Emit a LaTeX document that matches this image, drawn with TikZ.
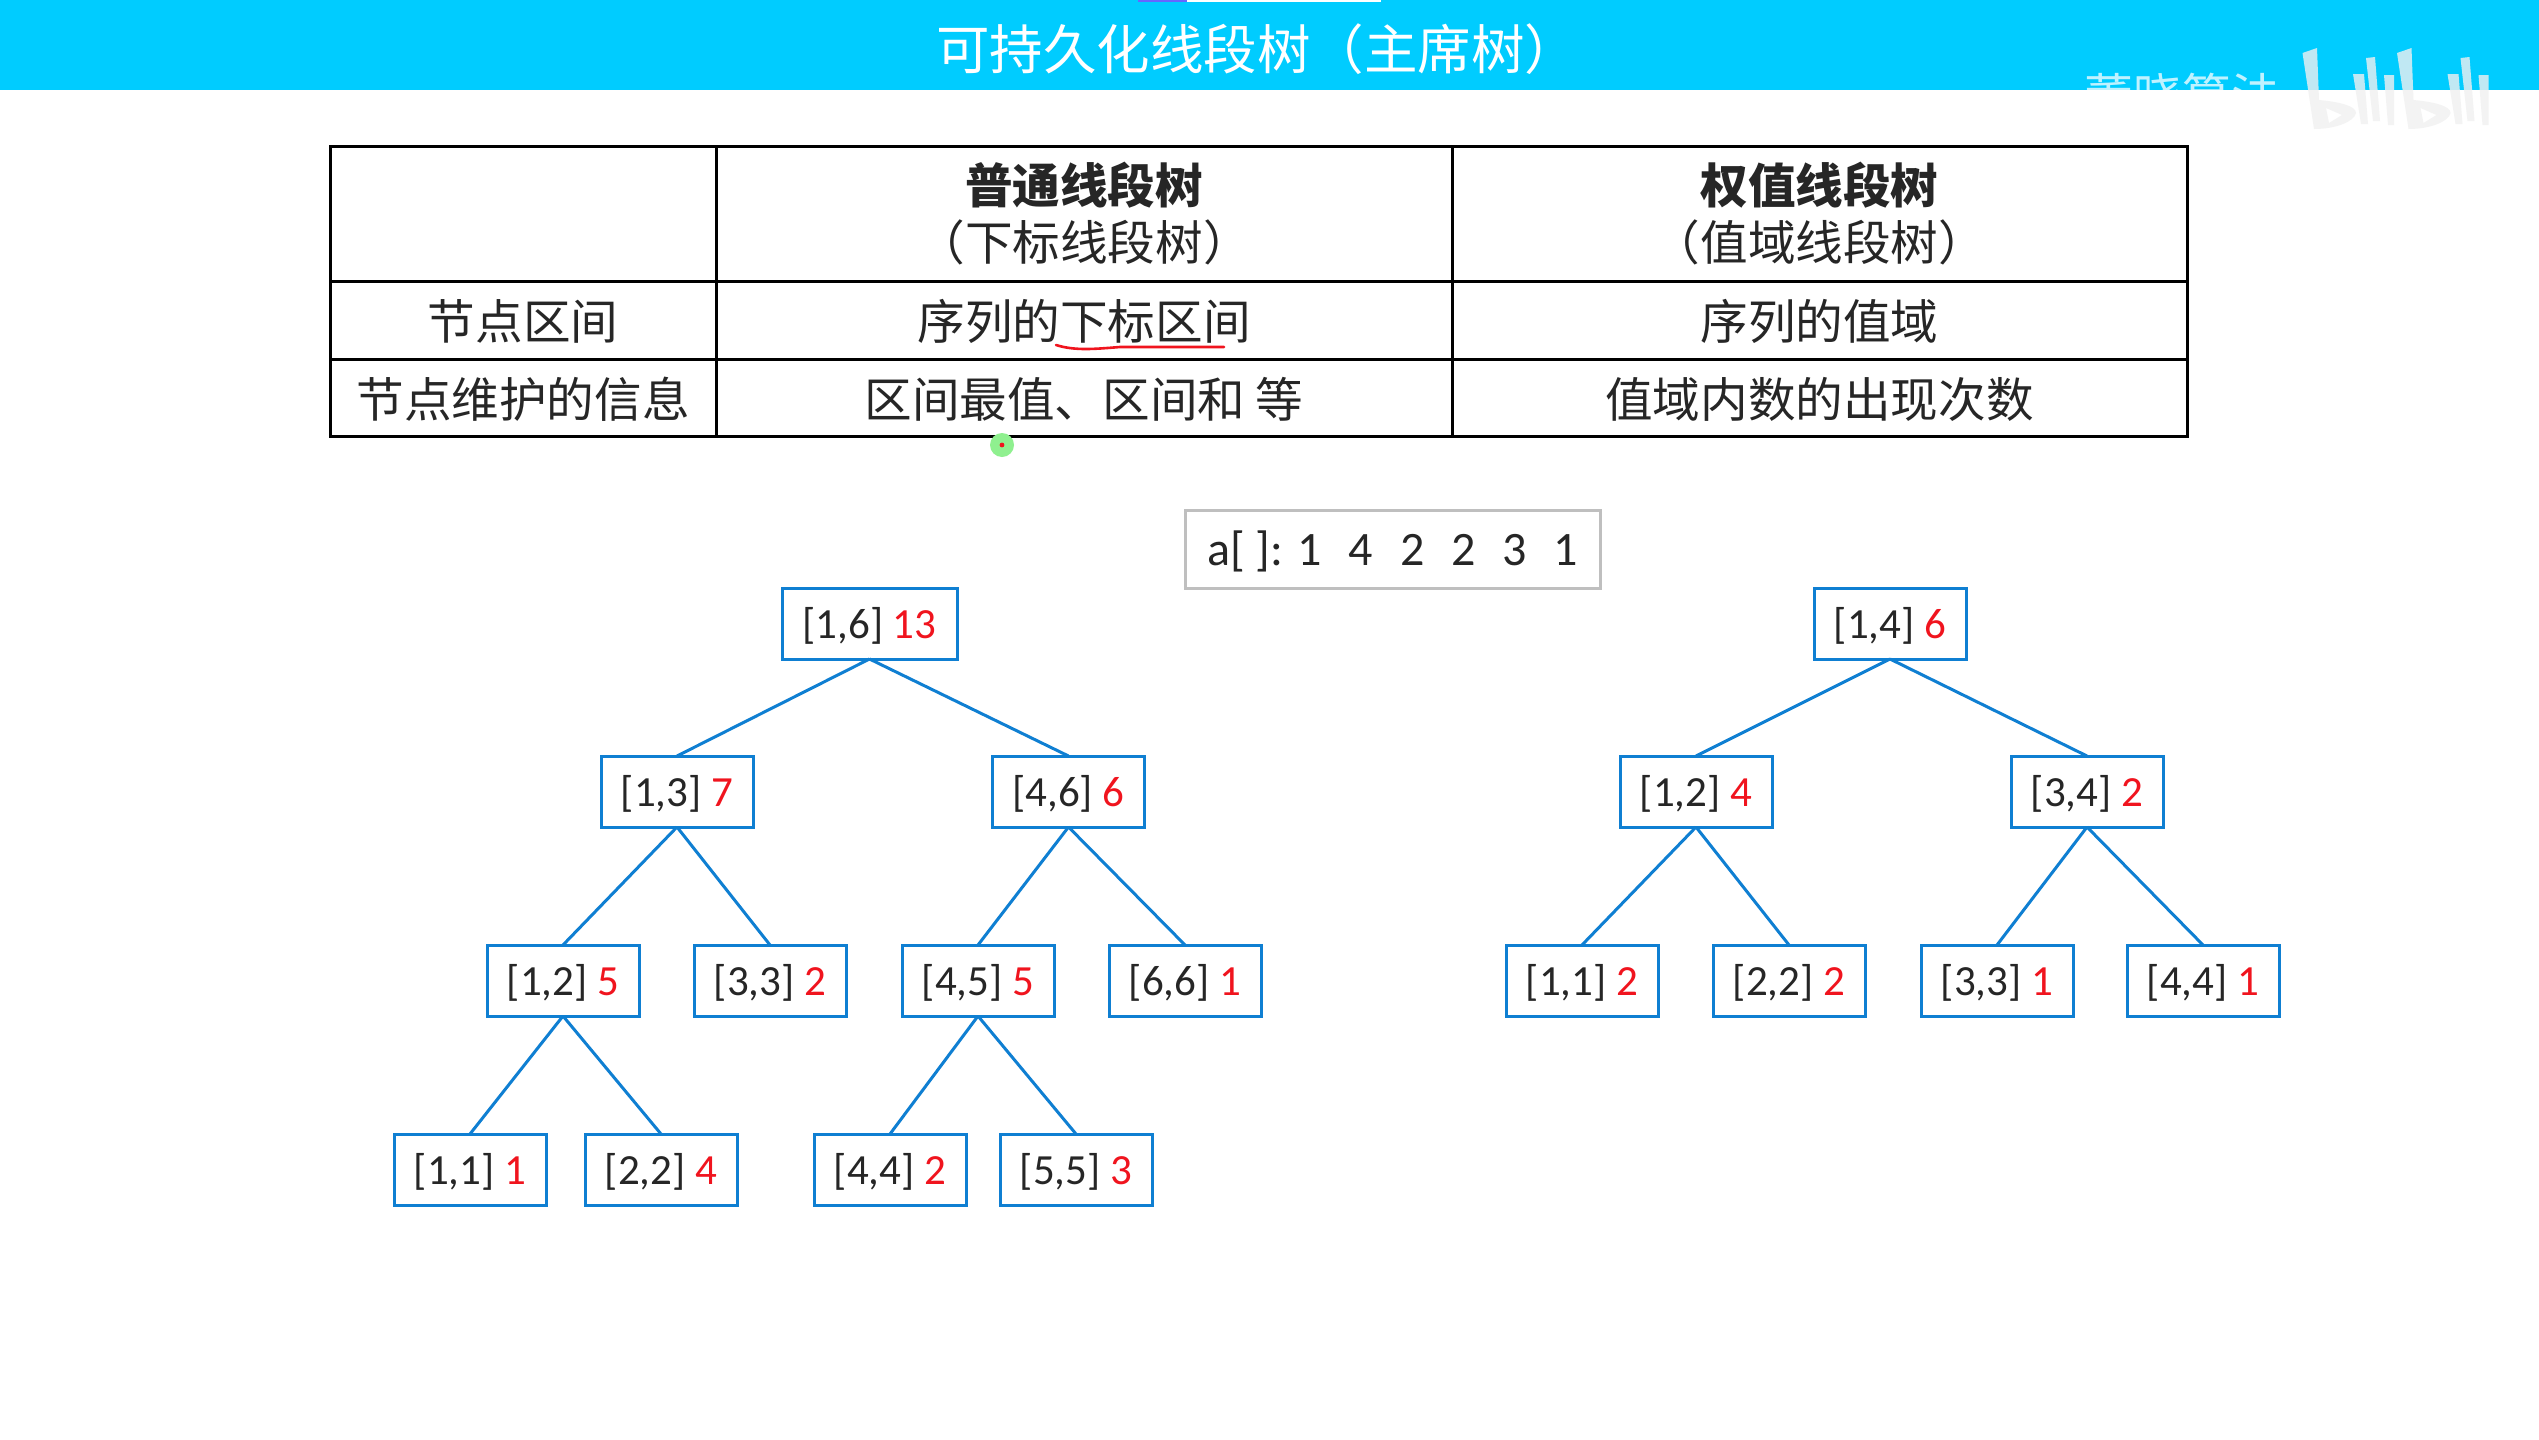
\documentclass[tikz,border=0pt]{standalone}
\usepackage{fontspec}
\usepackage{xcolor}
\usetikzlibrary{positioning}
\setmainfont{Carlito}
\newfontfamily\cjk{Noto Sans CJK SC}
\definecolor{segbanner}{HTML}{00CCFF}
\definecolor{segblue}{HTML}{0F7FD2}
\definecolor{segred}{HTML}{F0141E}
\definecolor{seginkk}{HTML}{262626}
\definecolor{seggrey}{HTML}{BFBFBF}
\definecolor{seggreen}{HTML}{8FF08F}
\newcommand{\seglbl}[2]{#1 \textcolor{segred}{#2}}

\begin{document}
\begin{tikzpicture}[
  x=0.5pt, y=-0.5pt,
  seg/.style={draw=segblue, line width=1.5pt, outer sep=0pt, inner sep=0pt, minimum height=35.5pt, minimum width=76pt,
    text=seginkk, text height=19pt, text depth=4pt, font=\fontsize{21.5}{24}\selectfont},
  link/.style={draw=segblue, line width=1.5pt},
  cell/.style={draw=black, line width=1.5pt, outer sep=0pt, inner sep=0pt, align=center, text=seginkk,
    font=\fontsize{23.8}{28.5}\selectfont\cjk},
  col0/.style={cell, minimum width=193pt},
  col1/.style={cell, minimum width=368pt},
  col2/.style={cell, minimum width=367.5pt},
  ivlrow/.style={minimum height=39pt, text height=22.4pt, text depth=3pt},
  infrow/.style={minimum height=38.5pt, text height=23.4pt, text depth=3pt},
  logo/.style={fill=black!6, fill opacity=.8, even odd rule}
]
\useasboundingbox (0,0) rectangle (2539,1440);
\fill[white] (0,0) rectangle (2539,1440);

% banner
\fill[segbanner] (0,0) rectangle (2539,90);
\fill[white] (1187,0) rectangle (1381,1.5);
\fill[blue!60] (1138,0) rectangle (1187,1.5);
\node[text=white, font=\fontsize{26.75}{30}\selectfont\cjk] (title) at (1257,49) {可持久化线段树（主席树）};
\node[text=white, text opacity=.75, font=\fontsize{24.5}{26}\selectfont\cjk] (mark) at (2182,96) {董晓算法};
\foreach \dx in {0,47.25} {
  \fill[logo, xshift=\dx pt] (2302.5,53) -- (2317,48) -- (2319,100) .. controls (2340,102) and (2356,106) .. (2356,113)
    .. controls (2354,122) and (2335,129) .. (2314,129) -- cycle
    (2326,108) -- (2342,115) -- (2329,123) -- cycle;
  \fill[logo, xshift=\dx pt] (2353,74) -- (2364,74) -- (2368,124) -- (2361,124) -- cycle;
  \fill[logo, xshift=\dx pt] (2366,58) -- (2375,57) -- (2380,121) -- (2373,121) -- cycle;
  \fill[logo, xshift=\dx pt] (2384,75) -- (2394,75) -- (2394,125) -- (2388,125) -- cycle;
}

% table
\node[col0, minimum height=67.5pt, anchor=north west] (hd0) at (330,146) {};
\node[col1, minimum height=67.5pt, right=0pt of hd0] (hd1) {{\bfseries 普通线段树}\\（下标线段树）};
\node[col2, minimum height=67.5pt, right=0pt of hd1] (hd2) {{\bfseries 权值线段树}\\（值域线段树）};
\node[col0, ivlrow, below=0pt of hd0] (ivl0) {节点区间};
\node[col1, ivlrow, right=0pt of ivl0] (ivl1) {序列的下标区间};
\node[col2, ivlrow, right=0pt of ivl1] (ivl2) {序列的值域};
\node[col0, infrow, below=0pt of ivl0] (inf0) {节点维护的信息};
\node[col1, infrow, right=0pt of inf0] (inf1) {区间最值、区间和 等};
\node[col2, infrow, right=0pt of inf1] (inf2) {值域内数的出现次数};

% pen mark and cursor
\coordinate (ula) at (1056,345);
\coordinate (ulb) at (1224,347);
\draw[segred, line width=1.3pt, line cap=round] (ula) .. controls (1075,351) and (1095,349) .. (1120,347) -- (ulb);
\node[circle, fill=seggreen, inner sep=0pt, minimum size=12pt] (cur) at (1002,445) {};
\node[circle, fill=segred, inner sep=0pt, minimum size=2.4pt] (curdot) at (cur) {};

% array
\node[draw=seggrey, line width=1.5pt, outer sep=0pt, inner sep=0pt, minimum width=207.5pt, minimum height=39pt, text=seginkk,
  text height=21pt, text depth=4.5pt, font=\fontsize{24}{26}\selectfont] (arr) at (1392.5,549)
  {a[ ]: 1\hspace{13.4pt}4\hspace{13.4pt}2\hspace{13.4pt}2\hspace{13.4pt}3\hspace{13.4pt}1};

% left tree: subscript ranges
\node[seg, minimum width=87.5pt] (r16) at (869.5,623.5) {\seglbl{[1,6]}{13}};
\node[seg, below=48.5pt of r16, xshift=-96.25pt] (r13) {\seglbl{[1,3]}{7}};
\node[seg, below=48.5pt of r16, xshift=99.5pt] (r46) {\seglbl{[4,6]}{6}};
\node[seg, below=59pt of r13, xshift=-57pt] (r12) {\seglbl{[1,2]}{5}};
\node[seg, below=59pt of r13, xshift=46.5pt] (r33) {\seglbl{[3,3]}{2}};
\node[seg, below=59pt of r46, xshift=-45.25pt] (r45) {\seglbl{[4,5]}{5}};
\node[seg, below=59pt of r46, xshift=58.25pt] (r66) {\seglbl{[6,6]}{1}};
\node[seg, below=59pt of r12, xshift=-46.5pt] (r11) {\seglbl{[1,1]}{1}};
\node[seg, below=59pt of r12, xshift=49pt] (r22) {\seglbl{[2,2]}{4}};
\node[seg, below=59pt of r45, xshift=-44pt] (r44) {\seglbl{[4,4]}{2}};
\node[seg, below=59pt of r45, xshift=49pt] (r55) {\seglbl{[5,5]}{3}};

% right tree: value ranges
\node[seg] (v14) at (1890,623.5) {\seglbl{[1,4]}{6}};
\node[seg, below=48.5pt of v14, xshift=-97pt] (v12) {\seglbl{[1,2]}{4}};
\node[seg, below=48.5pt of v14, xshift=98.5pt] (v34) {\seglbl{[3,4]}{2}};
\node[seg, below=59pt of v12, xshift=-57pt] (v11) {\seglbl{[1,1]}{2}};
\node[seg, below=59pt of v12, xshift=46.5pt] (v22) {\seglbl{[2,2]}{2}};
\node[seg, below=59pt of v34, xshift=-45pt] (v33) {\seglbl{[3,3]}{1}};
\node[seg, below=59pt of v34, xshift=58pt] (v44) {\seglbl{[4,4]}{1}};

\foreach \p/\c in {r16/r13,r16/r46,r13/r12,r13/r33,r46/r45,r46/r66,r12/r11,r12/r22,r45/r44,r45/r55,
  v14/v12,v14/v34,v12/v11,v12/v22,v34/v33,v34/v44}
  \draw[link] (\p.south) -- (\c.north);
\end{tikzpicture}
\end{document}
